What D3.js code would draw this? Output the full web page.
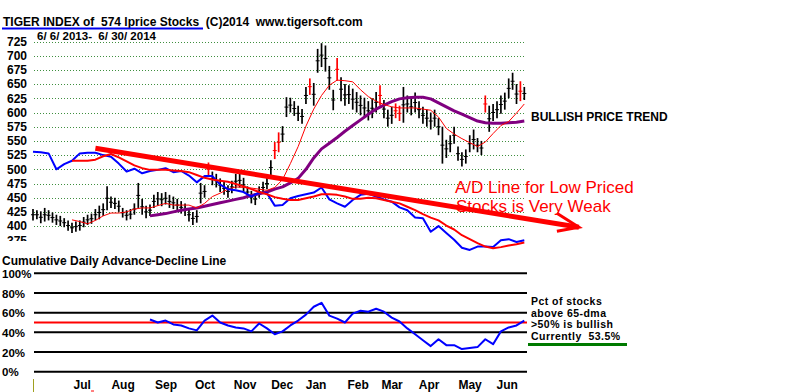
<!DOCTYPE html>
<html>
<head>
<meta charset="utf-8">
<script src="https://cdn.jsdelivr.net/npm/d3@7"></script>
<style>
  body { margin: 0; background: #fff; }
  text { font-family: "Liberation Sans", Arial, sans-serif; }
</style>
</head>
<body>
<script>
// price bars, one bar per index (each about two trading days)
const barLow = [410,412,405,408,410,406,402,400,398,392, 388,390,392,398,402,404,410,412,418,428,
  432,430,425,415,410,412,420,432,420,414, 418,432,436,435,438,432,430,426,422,418,
  408,402,406,440,450,488,472,468,460,455, 450,458,466,468,460,450,440,437,450,458,
  465,490,518,530,548,592,600,594,585,580, 615,631,612,670,680,672,640,604,656,620,
  612,615,605,600,595,590,586,590,600,612, 590,575,580,590,585,582,600,595,600,590,
  580,575,570,575,560,510,520,530,545,515, 505,510,530,535,530,525,600,566,585,590,
  598,605,625,640,615,620,622];
const barHigh = [430,428,426,432,428,424,420,418,414,410, 406,408,410,416,420,422,430,436,440,470,
  452,450,445,432,428,430,440,476,448,436, 438,455,460,458,460,455,452,448,444,440,
  432,425,428,476,472,512,496,492,484,478, 472,480,492,493,485,470,462,458,470,478,
  485,516,548,565,576,627,626,620,612,606, 645,660,652,712,722,718,682,640,696,662,
  650,648,642,636,630,626,620,625,636,648, 622,605,610,616,612,645,630,625,635,620,
  610,605,600,605,590,575,552,560,575,540, 530,535,560,570,555,550,630,612,615,620,
  630,635,660,670,650,655,645];
const redBars = [45, 62, 63, 71, 78, 89, 93, 94, 116, 125];

// lines sampled every 2 bar indices, starting at the given index
const lineStep = 2;
const adStart = 0;
const adLine = [531,530,528,500,509,515,528,529,529,525, 522,510,496,501,493,497,499,502,495,497,
  489,477,488,488,473,465,463,460,452,459, 458,436,437,449,453,456,459,468,447,440,
  434,446,455,457,452,447,443,433,428,415, 414,390,400,388,376,362,358,364,364,363,
  375,377,372,375];
const adAvgStart = 10;
const adAvg = [515,515,515,517,523,527,521,514,507,502, 499,499,499,498,497,495,490,485,482,480,
  478,474,470,465,460,456,451,448,446,446, 449,452,456,456,455,452,448,448,450,449,
  446,443,440,434,428,421,415,410,401,394, 384,377,370,364,361,363,366,368,371];
const priceAvgStart = 10;
const priceAvg = [411,408,404,410,418,423,423,425,430,432, 432,436,440,437,437,437,432,440,452,458,
  465,469,468,467,465,463,468,482,510,540, 576,606,630,648,657,656,654,640,628,620,
  614,610,608,608,608,606,604,592,572,562, 554,547,540,548,563,577,584,599,615];
const longAvgStart = 30;
const longAvg = [418,420,422,425,428,430,432,435,438,441, 444,447,450,454,457,460,465,469,476,484,
  500,520,536,546,556,567,577,587,597,606, 613,619,624,626,627,627,624,617,610,603,
  597,591,585,582,581,581,582,583,585];
const pctStart = 30;
const pctAbove = [53,50,52,48,47,44,42,52,57,50, 47,45,44,41,49,44,38,41,47,52,
  58,66,70,57,54,50,59,62,61,64, 61,55,51,44,38,32,26,33,27,27,
  23,24,25,33,28,41,45,47,52];

// trend line drawn on the A/D line: [index, value]
const trendFrom = [16, 537];
const trendTo = [140, 398];

const priceTicks = [725,700,675,650,625,600,575,550,525,500,475,450,425,400,375];
const pctTicks = [100,80,60,40,20,0];
const months = ["Jul","Aug","Sep","Oct","Nov","Dec","Jan","Feb","Mar","Apr","May","Jun"];
const monthPos = [12.6, 23.1, 34.1, 44.1, 54.4, 63.9, 72.6, 83.4, 92.1, 101.6, 112.1, 121.6];
const sideNotes = ["Pct of stocks", "above 65-dma", ">50% is bullish", "Currently  53.5%"];

const W = 800, H = 392;
const svg = d3.select("body").append("svg").attr("width", W).attr("height", H);
svg.append("rect").attr("width", W).attr("height", H).attr("fill", "#fff");

const x = d3.scaleLinear().domain([0, barLow.length - 1]).range([33, 524.3]);
const y = d3.scaleLinear().domain([375, 725]).range([240.3, 41.5]);
const yp = d3.scaleLinear().domain([0, 100]).range([371.7, 273.3]);

// title
svg.append("text").attr("x", 3).attr("y", 26)
  .style("white-space", "pre").attr("font-size", 12).attr("font-weight", "bold")
  .text("TIGER INDEX of  574 lprice Stocks  (C)2014  www.tigersoft.com");
svg.append("line").attr("x1", 2).attr("x2", 203).attr("y1", 28.5).attr("y2", 28.5)
  .attr("stroke", "#0000ee").attr("stroke-width", 2);
svg.append("text").attr("x", 37).attr("y", 39.5)
  .style("white-space", "pre").attr("font-size", 11.5).attr("font-weight", "bold")
  .text("6/ 6/ 2013-  6/ 30/ 2014");

// upper grid + labels
svg.append("g").selectAll("line").data(priceTicks.filter(d => d >= 400)).join("line")
  .attr("x1", 34).attr("x2", 524)
  .attr("y1", d => Math.round(y(d)) + 0.5).attr("y2", d => Math.round(y(d)) + 0.5)
  .attr("stroke", "#3f8f3f").attr("stroke-dasharray", "1,2");
svg.append("g").selectAll("text").data(priceTicks).join("text")
  .attr("x", 27).attr("y", d => y(d)).attr("dy", "0.35em")
  .attr("text-anchor", "end").attr("font-size", 12).attr("font-weight", "bold")
  .text(d => d);
// bottom label is half hidden by the lower panel
svg.append("rect").attr("x", 0).attr("y", 241).attr("width", 32).attr("height", 14).attr("fill", "#fff");

// price bars
const bars = svg.append("g");
barLow.forEach((lo, i) => {
  const col = redBars.includes(i) ? "#ff0000" : "#000";
  const hi = barHigh[i];
  bars.append("line").attr("x1", x(i)).attr("x2", x(i))
    .attr("y1", y(hi)).attr("y2", y(lo)).attr("stroke", col).attr("stroke-width", 1.7);
  bars.append("line").attr("x1", x(i) - 2).attr("x2", x(i) + 2)
    .attr("y1", y((hi + lo) / 2)).attr("y2", y((hi + lo) / 2)).attr("stroke", col).attr("stroke-width", 1);
});

function drawLine(vals, start, sc, col, w) {
  const line = d3.line().x((d, k) => x(start + k * lineStep)).y(d => sc(d));
  svg.append("path").datum(vals).attr("d", line).attr("fill", "none")
    .attr("stroke", col).attr("stroke-width", w).attr("stroke-linejoin", "round");
}

drawLine(longAvg, longAvgStart, y, "#800080", 3);
drawLine(priceAvg, priceAvgStart, y, "#ff0000", 1);
drawLine(adLine, adStart, y, "#0000ff", 2);
drawLine(adAvg, adAvgStart, y, "#ff0000", 2);

// trend line with arrow
const tx = x(trendTo[0]), ty = y(trendTo[1]);
svg.append("line").attr("x1", x(trendFrom[0])).attr("y1", y(trendFrom[1]))
  .attr("x2", tx).attr("y2", ty).attr("stroke", "#ff0000").attr("stroke-width", 5);
svg.append("path").attr("d", `M${tx - 22},${ty - 14}L${tx},${ty}L${tx - 22},${ty + 4}`)
  .attr("fill", "none").attr("stroke", "#ff0000").attr("stroke-width", 3);

svg.append("text").attr("x", 531).attr("y", 121).attr("font-size", 12).attr("font-weight", "bold")
  .text("BULLISH PRICE TREND");
const note = svg.append("text").attr("fill", "#ff0000").attr("font-size", 17);
note.append("tspan").attr("x", 455).attr("y", 192.5).text("A/D Line for Low Priced");
note.append("tspan").attr("x", 456).attr("y", 211.5).text("Stocks is Very Weak");

// lower panel
svg.append("text").attr("x", 2).attr("y", 265).attr("font-size", 12).attr("font-weight", "bold")
  .text("Cumulative Daily Advance-Decline Line");
svg.append("g").selectAll("line").data(pctTicks).join("line")
  .attr("x1", 34).attr("x2", 527).attr("y1", d => yp(d)).attr("y2", d => yp(d))
  .attr("stroke", "#000").attr("stroke-width", 2);
svg.append("g").selectAll("text").data(pctTicks).join("text")
  .attr("x", 2).attr("y", d => yp(d) + 0.5).attr("dy", "0.35em")
  .attr("font-size", 11.5).attr("font-weight", "bold").text(d => d + "%");
svg.append("line").attr("x1", 34).attr("x2", 527).attr("y1", yp(50)).attr("y2", yp(50))
  .attr("stroke", "#ff0000").attr("stroke-width", 2);
drawLine(pctAbove, pctStart, yp, "#0000ff", 2);

// notes at right of lower panel, one text per line
svg.append("g").selectAll("text").data(sideNotes).join("text")
  .attr("x", 531).attr("y", (d, k) => 305 + k * 11.5)
  .attr("font-size", 10.5).attr("letter-spacing", 0.45).attr("font-weight", "bold")
  .style("white-space", "pre").text(d => d);
svg.append("line").attr("x1", 528).attr("x2", 627).attr("y1", 344.5).attr("y2", 344.5)
  .attr("stroke", "#007a00").attr("stroke-width", 3);

// x axis
svg.append("g").selectAll("text").data(months).join("text")
  .attr("x", (d, i) => x(monthPos[i])).attr("y", 389).attr("text-anchor", "middle")
  .attr("font-size", 12).attr("font-weight", "bold").text(d => d);
svg.append("line").attr("x1", 33.5).attr("x2", 33.5).attr("y1", 379).attr("y2", 392)
  .attr("stroke", "#a0a020").attr("stroke-width", 1);
svg.append("line").attr("x1", 91).attr("x2", 94).attr("y1", 391).attr("y2", 391)
  .attr("stroke", "#ff0000").attr("stroke-width", 1);
</script>
</body>
</html>
